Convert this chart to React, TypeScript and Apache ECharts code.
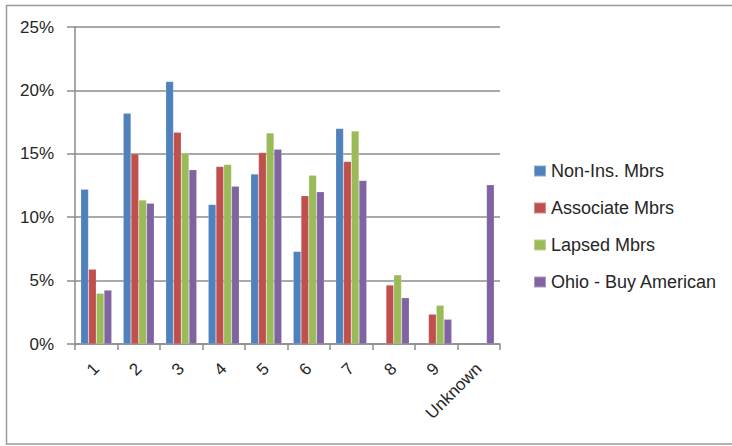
import React, { useEffect, useRef } from "react";
import * as echarts from "echarts";

const categories = ["1", "2", "3", "4", "5", "6", "7", "8", "9", "Unknown"];
const seriesNames = ["Non-Ins. Mbrs", "Associate Mbrs", "Lapsed Mbrs", "Ohio - Buy American"];
const nonInsMbrs = [12.2, 18.2, 20.7, 11.0, 13.4, 7.3, 17.0, null, null, null];
const associateMbrs = [5.9, 15.0, 16.7, 14.0, 15.1, 11.7, 14.4, 4.65, 2.35, null];
const lapsedMbrs = [4.0, 11.35, 15.05, 14.15, 16.65, 13.3, 16.8, 5.45, 3.05, null];
const ohioBuyAmerican = [4.25, 11.1, 13.75, 12.45, 15.35, 12.0, 12.9, 3.65, 1.95, 12.55];
const colors = ["#4F81BD", "#C0504D", "#9BBB59", "#8064A2"];
const yTicks = { min: 0, max: 25, interval: 5 };

const FONT = "'Liberation Sans', Arial, sans-serif";
const TEXT = "#262626";
const LINE = "#8c8c8c";

export default function App() {
  const ref = useRef<HTMLDivElement>(null);

  useEffect(() => {
    if (!ref.current) return;
    const chart = echarts.init(ref.current, undefined, { renderer: "svg" });
    const values = [nonInsMbrs, associateMbrs, lapsedMbrs, ohioBuyAmerican];
    chart.setOption({
      animation: false,
      backgroundColor: "#ffffff",
      textStyle: { fontFamily: FONT },
      graphic: [
        {
          type: "rect",
          shape: { x: 6.5, y: 5.5, width: 760, height: 438.5 },
          style: { fill: "none", stroke: "#9a9a9a", lineWidth: 1.5 },
          silent: true,
        },
      ],
      grid: { left: 75, top: 27, width: 425, height: 317, containLabel: false },
      legend: {
        orient: "vertical",
        left: 528,
        top: 157,
        itemWidth: 12,
        itemHeight: 11,
        itemGap: 19,
        icon: "rect",
        data: seriesNames,
        textStyle: { fontFamily: FONT, fontSize: 18, color: TEXT, lineHeight: 18 },
      },
      xAxis: {
        type: "category",
        data: categories,
        axisLine: { lineStyle: { color: LINE, width: 1.5 } },
        axisTick: { show: true, length: 6, lineStyle: { color: LINE, width: 1.5 } },
        axisLabel: {
          rotate: 45,
          margin: 22,
          fontSize: 17,
          color: TEXT,
          fontFamily: FONT,
          interval: 0,
        },
      },
      yAxis: {
        type: "value",
        min: yTicks.min,
        max: yTicks.max,
        interval: yTicks.interval,
        axisLine: { show: true, lineStyle: { color: LINE, width: 1.5 } },
        axisTick: { show: true, length: 8, lineStyle: { color: LINE, width: 1.5 } },
        splitLine: { show: true, lineStyle: { color: LINE, width: 1.5 } },
        axisLabel: {
          formatter: "{value}%",
          margin: 21,
          fontSize: 17,
          color: TEXT,
          fontFamily: FONT,
        },
      },
      series: seriesNames.map((name, i) => ({
        name,
        type: "bar",
        data: values[i],
        barGap: "0%",
        barCategoryGap: "27%",
        itemStyle: { color: colors[i], borderColor: "rgba(255,255,255,0.35)", borderWidth: 0.5 },
      })),
    });
    return () => chart.dispose();
  }, []);

  return (
    <div
      ref={ref}
      style={{ position: "fixed", left: 0, top: 0, width: 732, height: 446 }}
    />
  );
}
